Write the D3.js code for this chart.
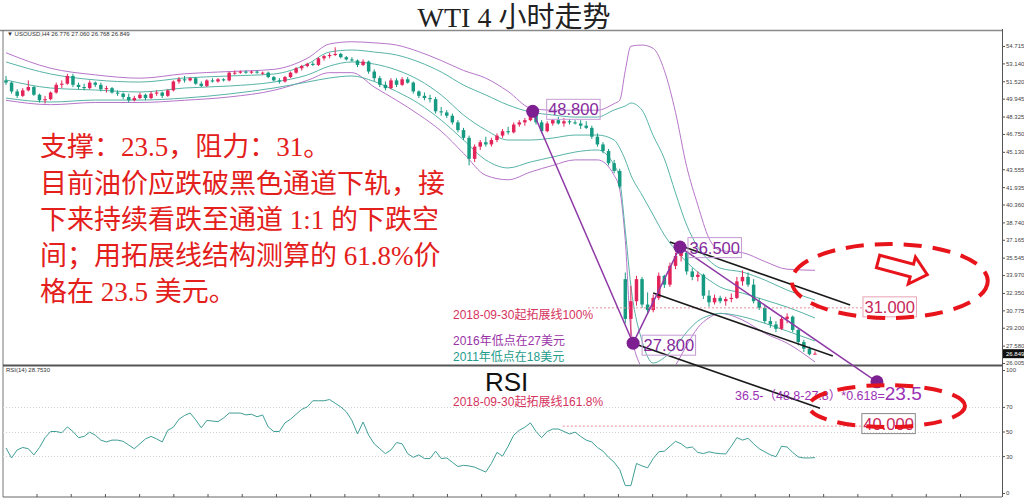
<!DOCTYPE html>
<html><head><meta charset="utf-8">
<script src="https://cdn.jsdelivr.net/npm/d3@7"></script>
<style>body{margin:0;background:#fff;} svg{display:block}</style>
</head><body>
<script>
// ---------------- DATA ----------------
const open = [51.6,51.4,50.6,50.2,50.7,51.0,50.3,49.8,49.9,50.5, 51.2,51.3,52.0,51.2,51.0,50.9,51.4,51.2,50.8,50.9, 50.5,50.4,50.1,49.8,50.0,50.3,50.0,50.4,50.5,50.2, 50.7,51.5,51.7,51.6,51.8,51.3,51.1,51.6,51.5,51.7, 51.6,52.3,52.3,52.4,52.3,52.4,52.3,52.3,51.9,51.6, 51.5,51.9,52.3,52.7,52.9,53.1,53.0,53.6,53.8,53.9, 54.0,53.7,53.5,53.4,53.0,53.3,52.4,51.8,51.2,50.9, 51.6,51.2,51.7,51.4,50.6,50.2,50.0,49.9,48.8,48.7, 48.4,47.8,47.1,46.4,44.5,45.6,46.0,45.8,46.2,46.6, 47.0,46.9,47.6,47.8,48.0,48.5,47.8,47.0,47.7,48.0, 47.7,47.9,47.8,47.7,47.5,47.3,46.5,45.8,45.2,44.1, 43.4,33.6,30.0,31.6,33.6,31.3,30.8,31.9,33.9,33.1, 34.8,35.7,36.0,34.3,33.8,34.0,32.1,31.5,31.9,31.6, 31.8,31.9,33.4,33.8,33.1,31.6,31.0,29.8,29.5,29.1, 30.0,30.2,29.0,27.9,27.3,26.78];
const high = [52.0,51.5,50.8,50.9,51.6,51.1,50.4,50.2,50.6,51.4, 51.6,52.2,52.2,51.4,51.3,51.6,51.5,51.4,51.1,51.0, 50.7,50.5,50.4,50.2,50.5,50.4,50.6,50.7,50.6,50.8, 51.6,51.9,52.0,51.9,51.9,51.5,51.7,51.8,51.8,51.8, 52.4,52.5,52.5,52.5,52.5,52.5,52.4,52.4,52.0,51.8, 52.0,52.4,52.8,53.0,53.2,53.3,53.7,53.9,54.1,54.6, 54.1,53.8,53.7,53.5,53.5,53.4,52.6,52.0,51.5,51.8, 51.8,51.9,51.9,51.5,50.7,50.5,50.3,50.1,49.2,48.9, 48.6,48.0,47.3,46.6,45.8,46.2,46.5,46.4,46.8,47.2, 47.4,47.8,48.0,48.2,48.8,48.6,48.0,47.9,48.1,48.3, 48.2,48.1,48.0,48.0,47.9,47.5,46.8,46.0,45.4,44.4, 43.6,34.2,33.0,33.9,33.8,32.4,32.2,34.2,34.0,35.1, 36.0,36.5,36.1,34.6,34.3,34.1,32.6,32.2,32.1,32.0, 32.3,33.8,34.4,34.2,33.6,31.9,31.2,30.2,29.8,30.3, 30.5,30.3,29.1,28.1,27.5,27.06];
const low = [51.2,50.4,50.0,50.1,50.6,50.2,49.6,49.5,49.8,50.4, 50.9,51.2,51.0,50.8,50.7,50.8,51.0,50.6,50.5,50.4, 50.2,49.9,49.6,49.7,49.9,49.8,49.9,50.2,50.0,50.1, 50.6,51.3,51.4,51.5,51.2,51.0,51.0,51.4,51.4,51.5, 51.5,52.1,52.2,52.2,52.2,52.2,52.1,51.8,51.5,51.3, 51.4,51.8,52.2,52.5,52.8,52.9,52.9,53.4,53.6,53.8, 53.6,53.4,53.3,52.8,52.9,52.2,51.5,51.0,50.7,50.8, 51.0,51.1,51.3,50.4,50.0,49.8,49.6,48.6,48.4,48.2, 47.6,46.9,46.2,43.9,44.2,45.3,45.6,45.6,46.0,46.4, 46.7,46.8,47.4,47.5,47.9,47.6,46.8,46.9,47.5,47.6, 47.4,47.6,47.6,47.2,47.2,46.3,45.6,45.0,43.9,43.2, 41.8,29.6,27.8,31.2,31.0,30.4,30.6,31.7,32.8,32.9, 34.5,35.2,34.0,33.5,33.4,31.8,31.1,31.3,31.4,31.2, 31.5,31.8,33.0,32.9,31.4,30.8,29.6,29.2,28.8,29.0, 29.6,28.8,27.6,27.0,26.7,26.77];
const close = [51.4,50.6,50.2,50.7,51.0,50.3,49.8,49.9,50.5,51.2, 51.3,52.0,51.2,51.0,50.9,51.4,51.2,50.8,50.9,50.5, 50.4,50.1,49.8,50.0,50.3,50.0,50.4,50.5,50.2,50.7, 51.5,51.7,51.6,51.8,51.3,51.1,51.6,51.5,51.7,51.6, 52.3,52.3,52.4,52.3,52.4,52.3,52.3,51.9,51.6,51.5, 51.9,52.3,52.7,52.9,53.1,53.0,53.6,53.8,53.9,54.0, 53.7,53.5,53.4,53.0,53.3,52.4,51.8,51.2,50.9,51.6, 51.2,51.7,51.4,50.6,50.2,50.0,49.9,48.8,48.7,48.4, 47.8,47.1,46.4,44.5,45.6,46.0,45.8,46.2,46.6,47.0, 46.9,47.6,47.8,48.0,48.5,47.8,47.0,47.7,48.0,47.7, 47.9,47.8,47.7,47.5,47.3,46.5,45.8,45.2,44.1,43.4, 42.0,30.0,31.6,33.6,31.3,30.8,31.9,33.9,33.1,34.8, 35.7,36.0,34.3,33.8,34.0,32.1,31.5,31.9,31.6,31.8, 31.9,33.4,33.8,33.1,31.6,31.0,29.8,29.5,29.1,30.0, 30.2,29.0,27.9,27.3,26.8,26.85];
const rsi = [36.6,28.5,35,37,36,31,37,45,50,50, 49,53.7,50,45,46,49.5,47,43,41.5,43, 43,42,39,36,40,44,46,44,41.5,51, 53.5,60,63,65,59.5,53,59,58.5,58,61, 65,65,65,63.5,64,62,63.4,53.7,50,50, 57,60,64,68,70,75,75,75,76,73, 70,66,59,48,57.7,47,40,36,32,35, 41,40,32,29,31,28,28,34,28,28.5, 25,21.5,22.5,22,21,19,17,24,33,30, 38,47,51,53.5,57,50,45,50,52,52, 50,48,49.5,46,43,41.5,37,34,29,25, 19,6,6,24,22,20.5,28,33.5,34,38, 42,40,36.6,37.4,33,32,33.5,32.5,32,31.7, 38,45,43,44.5,40,36,33.5,31,29.5,38, 37.4,33,29.3,28.5,28.5,28.75];

// Bollinger-type envelope lines at these bar indices
const bandIdx    = [0,8,16,24,32,40,48, 54,58,62,66,70,74,78,82,86,90,94,98, 102,106,109,110,111,112, 114,116,118,120,122,124,126,128, 132,136,140,145];
const outerUpper = [54.1,52.7,52.1,51.8,52.2,52.4,52.6, 53.6,54.9,55.1,55.0,54.8,54.2,53.4,52.5,51.8,50.6,49.1,48.9, 48.9,48.9,49.5,49.8,52.5,54.7, 54.8,54.5,52.5,48.7,43.8,40.3,37.3,36.2, 36.0,35.2,34.5,34.4];
const outerLower = [49.8,49.4,49.6,49.6,49.8,50.1,50.7, 51.6,52.3,52.3,51.0,49.8,48.5,47.0,45.0,43.0,42.6,43.3,43.9, 44.4,44.4,43.0,41.7,37.1,29.0, 25.4,23.6,24.5,25.8,27.6,29.2,30.1,30.5, 29.9,28.7,27.8,26.1];
const innerUpper = [53.27,52.18,51.64,51.45,51.82,52.0,52.18, 53.08,54.17,54.35,54.17,53.9,53.27,52.36,51.18,50.28,49.37,48.74,48.47, 48.28,48.28,48.92,49.1,49.28,49.55, 48.9,46.6,44.5,41.4,38.5,36.5,35.3,34.6, 34.24,33.52,32.61,31.71];
const middleLine = [51.64,50.91,50.73,50.55,50.91,51.09,51.45, 52.09,52.9,53.27,53.08,52.54,51.64,50.28,48.47,47.11,46.2,46.2,46.38, 46.65,46.65,46.2,45.48,44.39,43.03, 41.22,39.41,37.6,36.24,35.15,34.24,33.52,32.88, 32.34,31.71,31.07,30.08];
const innerLower = [50.0,49.64,49.82,49.82,50.0,50.37,50.91, 51.45,51.82,52.0,51.5,50.6,49.5,48.0,46.2,44.39,43.67,44.21,44.66, 45.11,45.3,43.94,42.58,38.0,33.0, 28.0,26.0,26.5,27.5,28.8,29.8,30.3,30.5, 30.2,29.6,28.9,28.0];

const priceTicks = [54.715,53.140,51.520,49.945,48.325,46.750,45.130,43.555,41.935,40.360,38.740,37.165,35.545,33.970,32.350,30.775,29.200,27.580,26.005];
const rsiTicks = [100,70,50,30,0];
const lastPrice = 26.849;

// annotations (bar index, price)
const pivotIdx    = [94.4, 112.4, 120.8];
const pivotPrice  = [48.8, 27.8, 36.5];
const pivotLabels = ["48.800","27.800","36.500"];
const targetIdx = 156.1, targetDrawPrice = 24.3;
const channels = [[119,36.96,151.3,31.26],[116,32.34,148.2,26.63],[112.4,27.8,145.9,21.9]];
const levelPrices = [31, 20.29];
const levelFrom   = [104.3, 99.8];
const levelTo     = [153.6, 153.4];
const levelLabels = ["31.000","40.000"];

const title = "WTI 4 小时走势";
const noteLines = ["支撑：23.5，阻力：31。","目前油价应跌破黑色通道下轨，接","下来持续看跌至通道 1:1 的下跌空","间；用拓展线结构测算的 61.8%价","格在 23.5 美元。"];

// ---------------- CHART ----------------
const W = 1024, H = 499;
const svg = d3.select('body').append('svg').attr('width',W).attr('height',H);
const x = d3.scaleLinear().domain([0,145]).range([6,815]);
const y = d3.scaleLinear().domain([26.005,54.715]).range([363,46]);
const yr = d3.scaleLinear().domain([0,100]).range([493,370]);
const L = 3, R = 1002, T = 30, MID = 365.5, B = 497;

const defs = svg.append('defs');
defs.append('clipPath').attr('id','cp').append('rect').attr('x',L).attr('y',T+1).attr('width',R-L).attr('height',MID-T-2);
defs.append('clipPath').attr('id','cr').append('rect').attr('x',L).attr('y',MID+1).attr('width',R-L).attr('height',B-MID-2);

const sans = "'Liberation Sans', Arial, 'Noto Sans CJK SC', sans-serif";
const serif = "'Liberation Serif', 'Noto Sans CJK SC', serif";

// title
svg.append('text').attr('x',514).attr('y',17).attr('dy','0.35em').attr('text-anchor','middle')
  .attr('font-family',serif).attr('font-size',28).attr('fill','#222').text(title);

// frame
svg.append('line').attr('x1',0).attr('x2',R).attr('y1',T+0.5).attr('y2',T+0.5).attr('stroke','#8a8a8a').attr('stroke-width',1.5);
svg.append('line').attr('x1',L).attr('x2',L).attr('y1',T).attr('y2',B).attr('stroke','#777').attr('stroke-width',1);
svg.append('line').attr('x1',L).attr('x2',R).attr('y1',MID).attr('y2',MID).attr('stroke','#555').attr('stroke-width',2);
svg.append('line').attr('x1',L).attr('x2',R).attr('y1',B).attr('y2',B).attr('stroke','#666').attr('stroke-width',1);

// RSI level lines
svg.append('g').selectAll('line').data([70,50,30]).join('line')
  .attr('x1',L).attr('x2',R).attr('y1',d=>Math.round(yr(d))+0.5).attr('y2',d=>Math.round(yr(d))+0.5)
  .attr('stroke','#cfcfcf').attr('stroke-dasharray','1,2');

// price panel content
const gp = svg.append('g').attr('clip-path','url(#cp)');
const band = d3.line().x(d=>x(d[0])).y(d=>y(d[1])).curve(d3.curveMonotoneX);
const series = [[outerUpper,'#b675c9'],[outerLower,'#b675c9'],[innerUpper,'#58b3a6'],[middleLine,'#58b3a6'],[innerLower,'#58b3a6']];
series.forEach(([vals,col])=>{
  gp.append('path').attr('d',band(bandIdx.map((b,k)=>[b,vals[k]]))).attr('fill','none').attr('stroke',col).attr('stroke-width',1);
});
const up='#e3245a', dn='#169a82';
const cg = gp.append('g');
close.forEach((c,i)=>{
  const col = c>=open[i]?up:dn;
  cg.append('line').attr('x1',x(i)).attr('x2',x(i)).attr('y1',y(high[i])).attr('y2',y(low[i])).attr('stroke',col).attr('stroke-width',1);
  const y0=y(Math.max(open[i],c)), y1=y(Math.min(open[i],c));
  cg.append('rect').attr('x',x(i)-1.75).attr('width',3.5).attr('y',y0).attr('height',Math.max(1,y1-y0)).attr('fill',col);
});

// RSI
const gr = svg.append('g').attr('clip-path','url(#cr)');
gr.append('path').attr('d',d3.line().x((d,i)=>x(i)).y(d=>yr(d))(rsi)).attr('fill','none').attr('stroke','#3f9e95').attr('stroke-width',1);

// axes
const ay = d3.axisRight(y).tickValues(priceTicks).tickSize(3).tickFormat(d3.format('.3f'));
const gAy = svg.append('g').attr('transform',`translate(${R},0)`).call(ay);
const ar = d3.axisRight(yr).tickValues(rsiTicks).tickSize(3).tickFormat(d3.format('d'));
const gAr = svg.append('g').attr('transform',`translate(${R},0)`).call(ar);
[gAy,gAr].forEach(g=>{
  g.select('.domain').remove();
  g.selectAll('line').attr('stroke','#555');
  g.selectAll('text').attr('font-family',sans).attr('font-size',6).attr('fill','#444').attr('x',4);
});
svg.append('line').attr('x1',R+0.5).attr('x2',R+0.5).attr('y1',T-1).attr('y2',B).attr('stroke','#555').attr('stroke-width',1);
svg.append('rect').attr('x',R+1).attr('y',y(lastPrice)-4.5).attr('width',W-R-1).attr('height',9).attr('fill','#111');
svg.append('text').attr('x',R+4).attr('y',y(lastPrice)).attr('dy','0.35em').attr('font-family',sans).attr('font-size',6).attr('fill','#fff').text(d3.format('.3f')(lastPrice));
// bottom day ticks
svg.append('g').selectAll('line').data(d3.range(5.56,175,6.13).filter(v=>x(v)<R)).join('line')
  .attr('x1',d=>x(d)).attr('x2',d=>x(d)).attr('y1',B-3).attr('y2',B).attr('stroke','#555');

// header texts
svg.append('text').attr('x',7).attr('y',36).attr('font-family',sans).attr('font-size',6).attr('fill','#333').text('▼ USOUSD,H4  26.776 27.060 26.768 26.849');
svg.append('text').attr('x',6).attr('y',372).attr('font-family',sans).attr('font-size',6).attr('fill','#333').text('RSI(14) 28.7530');

// dotted extension levels
const ga = svg.append('g');
levelPrices.forEach((p,k)=>{
  ga.append('line').attr('x1',x(levelFrom[k])).attr('x2',x(levelTo[k])).attr('y1',y(p)).attr('y2',y(p))
    .attr('stroke','#e58a9c').attr('stroke-width',1).attr('stroke-dasharray','2,2');
});

// black channel lines
channels.forEach(c=>{
  ga.append('line').attr('x1',x(c[0])).attr('y1',y(c[1])).attr('x2',x(c[2])).attr('y2',y(c[3]))
    .attr('stroke','#1a1a1a').attr('stroke-width',1.6);
});
// purple swing lines
const pts = pivotIdx.map((v,k)=>[x(v),y(pivotPrice[k])]);
ga.append('path').attr('d',d3.line()(pts)).attr('fill','none').attr('stroke','#8e3aa6').attr('stroke-width',1.5);
ga.append('path').attr('d',d3.line()([pts[2],[x(targetIdx),y(targetDrawPrice)]])).attr('fill','none').attr('stroke','#8e3aa6').attr('stroke-width',1.5);
pts.concat([[x(targetIdx),y(targetDrawPrice)]]).forEach(p=>{
  ga.append('circle').attr('cx',p[0]).attr('cy',p[1]).attr('r',6.5).attr('fill','#7d1f91');
});

function boxLabel(xl, yc, txt, color, stroke){
  const r = ga.append('rect').attr('x',xl).attr('y',yc-10).attr('height',20).attr('fill','none').attr('stroke',stroke).attr('stroke-width',1);
  const t = ga.append('text').attr('x',xl+1.5).attr('y',yc).attr('dy','0.36em').attr('font-family',sans).attr('font-size',16.5).attr('fill',color).text(txt);
  r.attr('width',t.node().getComputedTextLength()+3);
}
boxLabel(pts[0][0]+14, pts[0][1]-2, pivotLabels[0], '#862b9c', '#c59ad3');
boxLabel(pts[1][0]+9, pts[1][1]+2, pivotLabels[1], '#862b9c', '#c59ad3');
boxLabel(pts[2][0]+8, pts[2][1]+0.5, pivotLabels[2], '#862b9c', '#c59ad3');
boxLabel(x(levelTo[0]), y(levelPrices[0])-1, levelLabels[0], '#c8285a', '#eaa3b5');
boxLabel(x(levelTo[1]), y(levelPrices[1])-2.5, levelLabels[1], '#c8285a', '#888');

// small colored notes
const notes = [["2018-09-30起拓展线100%",315,'#d6335e'],["2016年低点在27美元",341,'#9a33a8'],["2011年低点在18美元",357,'#239c8c'],["2018-09-30起拓展线161.8%",402,'#d6335e']];
notes.forEach(n=>{
  ga.append('text').attr('x',453).attr('y',n[1]).attr('dy','0.35em').attr('font-family',sans).attr('font-size',12).attr('fill',n[2]).text(n[0]);
});
ga.append('text').attr('x',485).attr('y',382).attr('dy','0.36em').attr('font-family',sans).attr('font-size',26).attr('fill','#111').text('RSI');

// formula text
const ft = ga.append('text').attr('x',735).attr('y',394).attr('dy','0.35em').attr('font-family',sans).attr('fill','#9b32b4');
ft.append('tspan').attr('font-size',12.5).text('36.5-（48.8-27.8）*0.618=');
ft.append('tspan').attr('font-size',19).text('23.5');

// red dashed ellipses
const ellC = [[158.4,33.43,98,37],[157.9,22.1,78,21]];
ellC.forEach(e=>{
  ga.append('ellipse').attr('cx',x(e[0])).attr('cy',y(e[1])).attr('rx',e[2]).attr('ry',e[3])
    .attr('fill','none').attr('stroke','#e8141c').attr('stroke-width',4).attr('stroke-dasharray','18,11');
});
// hollow arrow
ga.append('polygon').attr('points','0,-6.5 35,-6.5 35,-14 51,0 35,14 35,6.5 0,6.5')
  .attr('transform',`translate(${x(156.3)},${y(35.2)}) rotate(15)`)
  .attr('fill','#fff').attr('stroke','#e8141c').attr('stroke-width',3).attr('stroke-linejoin','miter');

// red commentary
noteLines.forEach((s,k)=>{
  ga.append('text').attr('x',40).attr('y',[146,183,219,255,291][k]).attr('dy','0.36em')
    .attr('font-family',serif).attr('font-size',27).attr('fill','#e3201b').text(s);
});
</script>
</body></html>
